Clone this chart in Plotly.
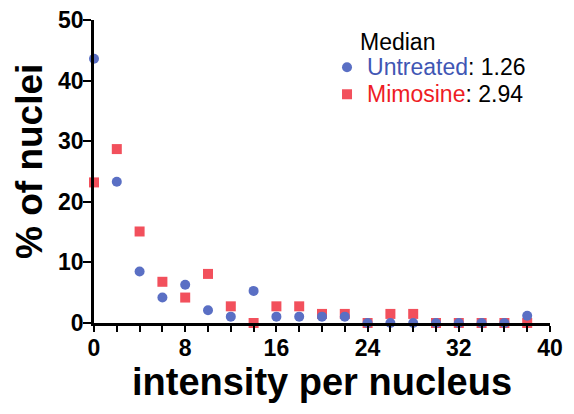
import plotly.graph_objects as go

# ---- data ----
intensity = [0, 2, 4, 6, 8, 10, 12, 14, 16, 18, 20, 22, 24, 26, 28, 30, 32, 34, 36, 38]
untreated = [43.6, 23.3, 8.5, 4.2, 6.3, 2.1, 1.05, 5.3, 1.05, 1.05, 1.05, 1.05, 0, 0, 0, 0, 0, 0, 0, 1.2]
mimosine = [23.2, 28.7, 15.1, 6.8, 4.2, 8.1, 2.75, 0, 2.75, 2.75, 1.5, 1.5, 0, 1.5, 1.5, 0, 0, 0, 0, 0]
median_untreated = "1.26"
median_mimosine = "2.94"
x_tickvals = [0, 8, 16, 24, 32, 40]
y_tickvals = [0, 10, 20, 30, 40, 50]

FONT = "Liberation Sans, Arial, sans-serif"
BLUE = "#5a6fc4"
RED = "#f2505c"
BLUE_TXT = "#3f56b4"
RED_TXT = "#ee1c25"
LEG_SIZE = "23px"

fig = go.Figure()
fig.add_trace(go.Scatter(
    x=intensity, y=mimosine, mode="markers",
    marker=dict(symbol="square", size=10, color=RED),
    cliponaxis=False,
    name=(f"<span style='font-size:{LEG_SIZE}'><span style='color:{RED_TXT}'>Mimosine</span>"
          f": {median_mimosine}</span>"),
))
fig.add_trace(go.Scatter(
    x=intensity, y=untreated, mode="markers",
    marker=dict(symbol="circle", size=10, color=BLUE),
    cliponaxis=False,
    name=(f"<span style='font-size:{LEG_SIZE}'><span style='color:{BLUE_TXT}'>Untreated</span>"
          f": {median_untreated}</span>"),
))

fig.update_layout(
    width=574, height=414,
    margin=dict(l=94, r=24, t=20, b=91, autoexpand=False),
    paper_bgcolor="white", plot_bgcolor="white",
    font=dict(family=FONT, color="black"),
    showlegend=True,
    legend=dict(
        x=0.511, y=0.905, xanchor="left", yanchor="top",
        traceorder="reversed",
        font=dict(family=FONT, size=18.5, color="black"),
        bgcolor="rgba(0,0,0,0)",
        itemwidth=30,
        tracegroupgap=0,
    ),
    xaxis=dict(
        range=[0, 40], tickvals=x_tickvals, automargin=False,
        showline=True, linecolor="black", linewidth=2.5,
        ticks="outside", ticklen=6, tickwidth=2, tickcolor="black",
        minor=dict(dtick=2, ticks="outside", ticklen=6, tickwidth=2, tickcolor="black"),
        showgrid=False, zeroline=False,
        ticklabelstandoff=-3, ticklabeloverflow="allow",
        tickfont=dict(family=FONT, size=23, weight="bold"),
        title=dict(text="intensity per nucleus",
                   font=dict(family=FONT, size=38, weight="bold"), standoff=8),
    ),
    yaxis=dict(
        range=[0, 50], tickvals=y_tickvals, automargin=False,
        showline=True, linecolor="black", linewidth=2.5,
        ticks="outside", ticklen=8, tickwidth=2, tickcolor="black",
        showgrid=False, zeroline=False,
        ticklabelstandoff=-5, ticklabeloverflow="allow",
        tickfont=dict(family=FONT, size=23, weight="bold"),
    ),
    annotations=[
        dict(text="Median", x=0.58, y=0.927, xref="paper", yref="paper",
             xanchor="left", yanchor="middle", showarrow=False,
             font=dict(family=FONT, size=23, color="black")),
        dict(text="% of nuclei", x=-0.14, y=0.532, xref="paper", yref="paper",
             xanchor="center", yanchor="middle", showarrow=False, textangle=-90,
             font=dict(family=FONT, size=37, color="black", weight="bold")),
    ],
)

# remove the default 8px page margin so the figure sits at the window's top-left corner
fig.write_html("out.html", config={"displayModeBar": False},
               post_script="document.body.style.margin='0px';")
